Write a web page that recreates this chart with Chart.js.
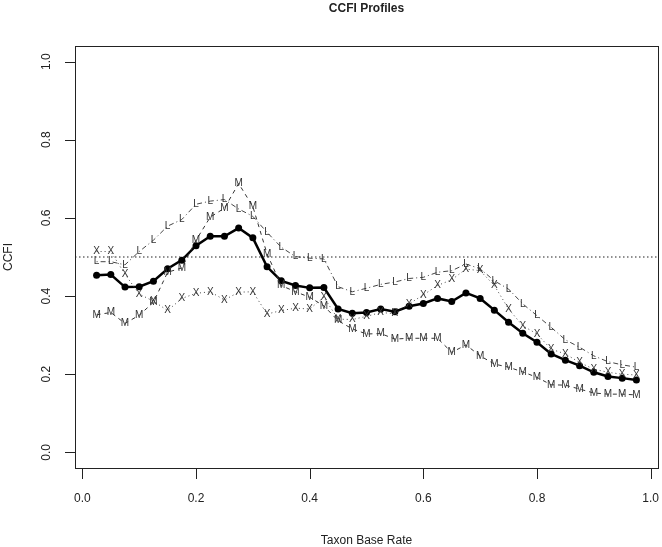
<!DOCTYPE html>
<html lang="en">
<head>
    <meta charset="UTF-8">
    <title>CCFI Profiles</title>
    <script src="https://cdn.jsdelivr.net/npm/chart.js"></script>
    <style>
        body { margin: 0; background: #fff; }
        #wrap { width: 662px; height: 547px; }
    </style>
</head>
<body>
    <div id="wrap"><canvas id="ccfi-chart" width="662" height="547"></canvas></div>

    <script>
        // Data
        const baseRates = [0.025, 0.05, 0.075, 0.1, 0.125, 0.15, 0.175, 0.2, 0.225, 0.25,
            0.275, 0.3, 0.325, 0.35, 0.375, 0.4, 0.425, 0.45, 0.475, 0.5,
            0.525, 0.55, 0.575, 0.6, 0.625, 0.65, 0.675, 0.7, 0.725, 0.75,
            0.775, 0.8, 0.825, 0.85, 0.875, 0.9, 0.925, 0.95, 0.975];
        const meanCcfi = [0.453, 0.455, 0.423, 0.424, 0.438, 0.470, 0.492, 0.529, 0.553, 0.553,
            0.574, 0.549, 0.475, 0.439, 0.427, 0.421, 0.422, 0.367, 0.356, 0.358,
            0.367, 0.360, 0.374, 0.381, 0.394, 0.386, 0.408, 0.394, 0.364, 0.333,
            0.305, 0.282, 0.252, 0.236, 0.222, 0.205, 0.194, 0.190, 0.185];
        const lmodeCcfi = [0.488, 0.488, 0.480, 0.514, 0.543, 0.579, 0.596, 0.635, 0.643, 0.647,
            0.623, 0.604, 0.563, 0.525, 0.501, 0.497, 0.495, 0.424, 0.411, 0.420,
            0.430, 0.436, 0.445, 0.448, 0.461, 0.465, 0.482, 0.470, 0.439, 0.418,
            0.380, 0.350, 0.320, 0.288, 0.269, 0.247, 0.232, 0.224, 0.218];
        const maxeigCcfi = [0.514, 0.514, 0.456, 0.405, 0.387, 0.363, 0.394, 0.407, 0.411, 0.390,
            0.410, 0.411, 0.354, 0.363, 0.369, 0.367, 0.397, 0.341, 0.340, 0.348,
            0.358, 0.355, 0.380, 0.403, 0.427, 0.442, 0.469, 0.465, 0.427, 0.367,
            0.324, 0.303, 0.264, 0.252, 0.230, 0.213, 0.205, 0.200, 0.198];
        const mambacCcfi = [0.352, 0.358, 0.330, 0.351, 0.384, 0.461, 0.472, 0.543, 0.602, 0.625,
            0.688, 0.629, 0.508, 0.427, 0.411, 0.397, 0.375, 0.337, 0.316, 0.303,
            0.304, 0.290, 0.292, 0.292, 0.292, 0.256, 0.275, 0.247, 0.226, 0.218,
            0.206, 0.192, 0.173, 0.172, 0.162, 0.152, 0.149, 0.149, 0.147];
        const cutoff = 0.5;
        const xTicks = [0, 0.2, 0.4, 0.6, 0.8, 1.0];
        const yTicks = [0, 0.2, 0.4, 0.6, 0.8, 1.0];

        // R-style axis limits (4% extension)
        const xMin = -0.013, xMax = 1.013;
        const yMin = -0.04, yMax = 1.04;

        const toPoints = (ys) => ys.map((y, i) => ({ x: baseRates[i], y: y }));
        const font = '"Liberation Sans", Arial, sans-serif';

        // Draws the R-like box, axes, labels and the letter markers
        const rPlotDecor = {
            id: 'rPlotDecor',
            afterDatasetsDraw(chart) {
                const ctx = chart.ctx;
                const xs = chart.scales.x;
                const ys = chart.scales.y;
                const area = chart.chartArea;

                // letter markers
                ctx.save();
                ctx.font = '10px ' + font;
                ctx.textAlign = 'center';
                ctx.textBaseline = 'middle';
                ctx.fillStyle = '#333';
                chart.data.datasets.forEach((ds, di) => {
                    if (!ds.marker) return;
                    chart.getDatasetMeta(di).data.forEach(pt => {
                        ctx.fillText(ds.marker, pt.x, pt.y);
                    });
                });
                ctx.restore();

                ctx.save();
                ctx.strokeStyle = '#222';
                ctx.lineWidth = 1;
                ctx.strokeRect(Math.round(area.left) + 0.5, Math.round(area.top) + 0.5,
                    Math.round(area.right - area.left), Math.round(area.bottom - area.top));

                ctx.fillStyle = '#222';
                ctx.font = '12px ' + font;

                // x axis
                ctx.beginPath();
                xTicks.forEach(v => {
                    const px = Math.round(xs.getPixelForValue(v)) + 0.5;
                    ctx.moveTo(px, area.bottom);
                    ctx.lineTo(px, area.bottom + 11);
                });
                ctx.stroke();
                ctx.textAlign = 'center';
                ctx.textBaseline = 'middle';
                xTicks.forEach(v => {
                    ctx.fillText(v.toFixed(1), xs.getPixelForValue(v), 499);
                });
                ctx.fillText('Taxon Base Rate', (area.left + area.right) / 2, 541);

                // y axis
                ctx.beginPath();
                yTicks.forEach(v => {
                    const py = Math.round(ys.getPixelForValue(v)) + 0.5;
                    ctx.moveTo(area.left, py);
                    ctx.lineTo(area.left - 10, py);
                });
                ctx.stroke();
                yTicks.forEach(v => {
                    ctx.save();
                    ctx.translate(47, ys.getPixelForValue(v));
                    ctx.rotate(-Math.PI / 2);
                    ctx.fillText(v.toFixed(1), 0, 0);
                    ctx.restore();
                });
                ctx.save();
                ctx.translate(9, (area.top + area.bottom) / 2);
                ctx.rotate(-Math.PI / 2);
                ctx.fillText('CCFI', 0, 0);
                ctx.restore();

                // title
                ctx.font = 'bold 12px ' + font;
                ctx.fillText('CCFI Profiles', (area.left + area.right) / 2, 9);
                ctx.restore();
            }
        };

        const ctx = document.getElementById('ccfi-chart').getContext('2d');
        const chart = new Chart(ctx, {
            type: 'scatter',
            data: {
                datasets: [
                    {
                        label: 'Cutoff',
                        data: [{ x: xMin, y: cutoff }, { x: xMax, y: cutoff }],
                        showLine: true, borderColor: '#222', borderWidth: 1.2,
                        borderDash: [1.5, 2.5], pointRadius: 0
                    },
                    {
                        label: 'L-Mode',
                        data: toPoints(lmodeCcfi), marker: 'L',
                        showLine: true, borderColor: '#444', borderWidth: 1,
                        borderDash: [1, 3, 5, 3], pointRadius: 0
                    },
                    {
                        label: 'MAXEIG',
                        data: toPoints(maxeigCcfi), marker: 'X',
                        showLine: true, borderColor: '#444', borderWidth: 1,
                        borderDash: [1, 3], pointRadius: 0
                    },
                    {
                        label: 'MAMBAC',
                        data: toPoints(mambacCcfi), marker: 'M',
                        showLine: true, borderColor: '#333', borderWidth: 1,
                        borderDash: [4, 4], pointRadius: 0
                    },
                    {
                        label: 'Mean',
                        data: toPoints(meanCcfi),
                        showLine: true, borderColor: '#000', borderWidth: 2.5,
                        pointRadius: 3.5, pointBackgroundColor: '#000',
                        pointBorderColor: '#000', pointBorderWidth: 0
                    }
                ]
            },
            options: {
                responsive: false,
                animation: false,
                layout: { padding: { left: 75, top: 46, right: 3, bottom: 79 } },
                plugins: { legend: { display: false }, tooltip: { enabled: false } },
                scales: {
                    x: { type: 'linear', min: xMin, max: xMax, display: false },
                    y: { type: 'linear', min: yMin, max: yMax, display: false }
                }
            },
            plugins: [rPlotDecor]
        });
    </script>
</body>
</html>
